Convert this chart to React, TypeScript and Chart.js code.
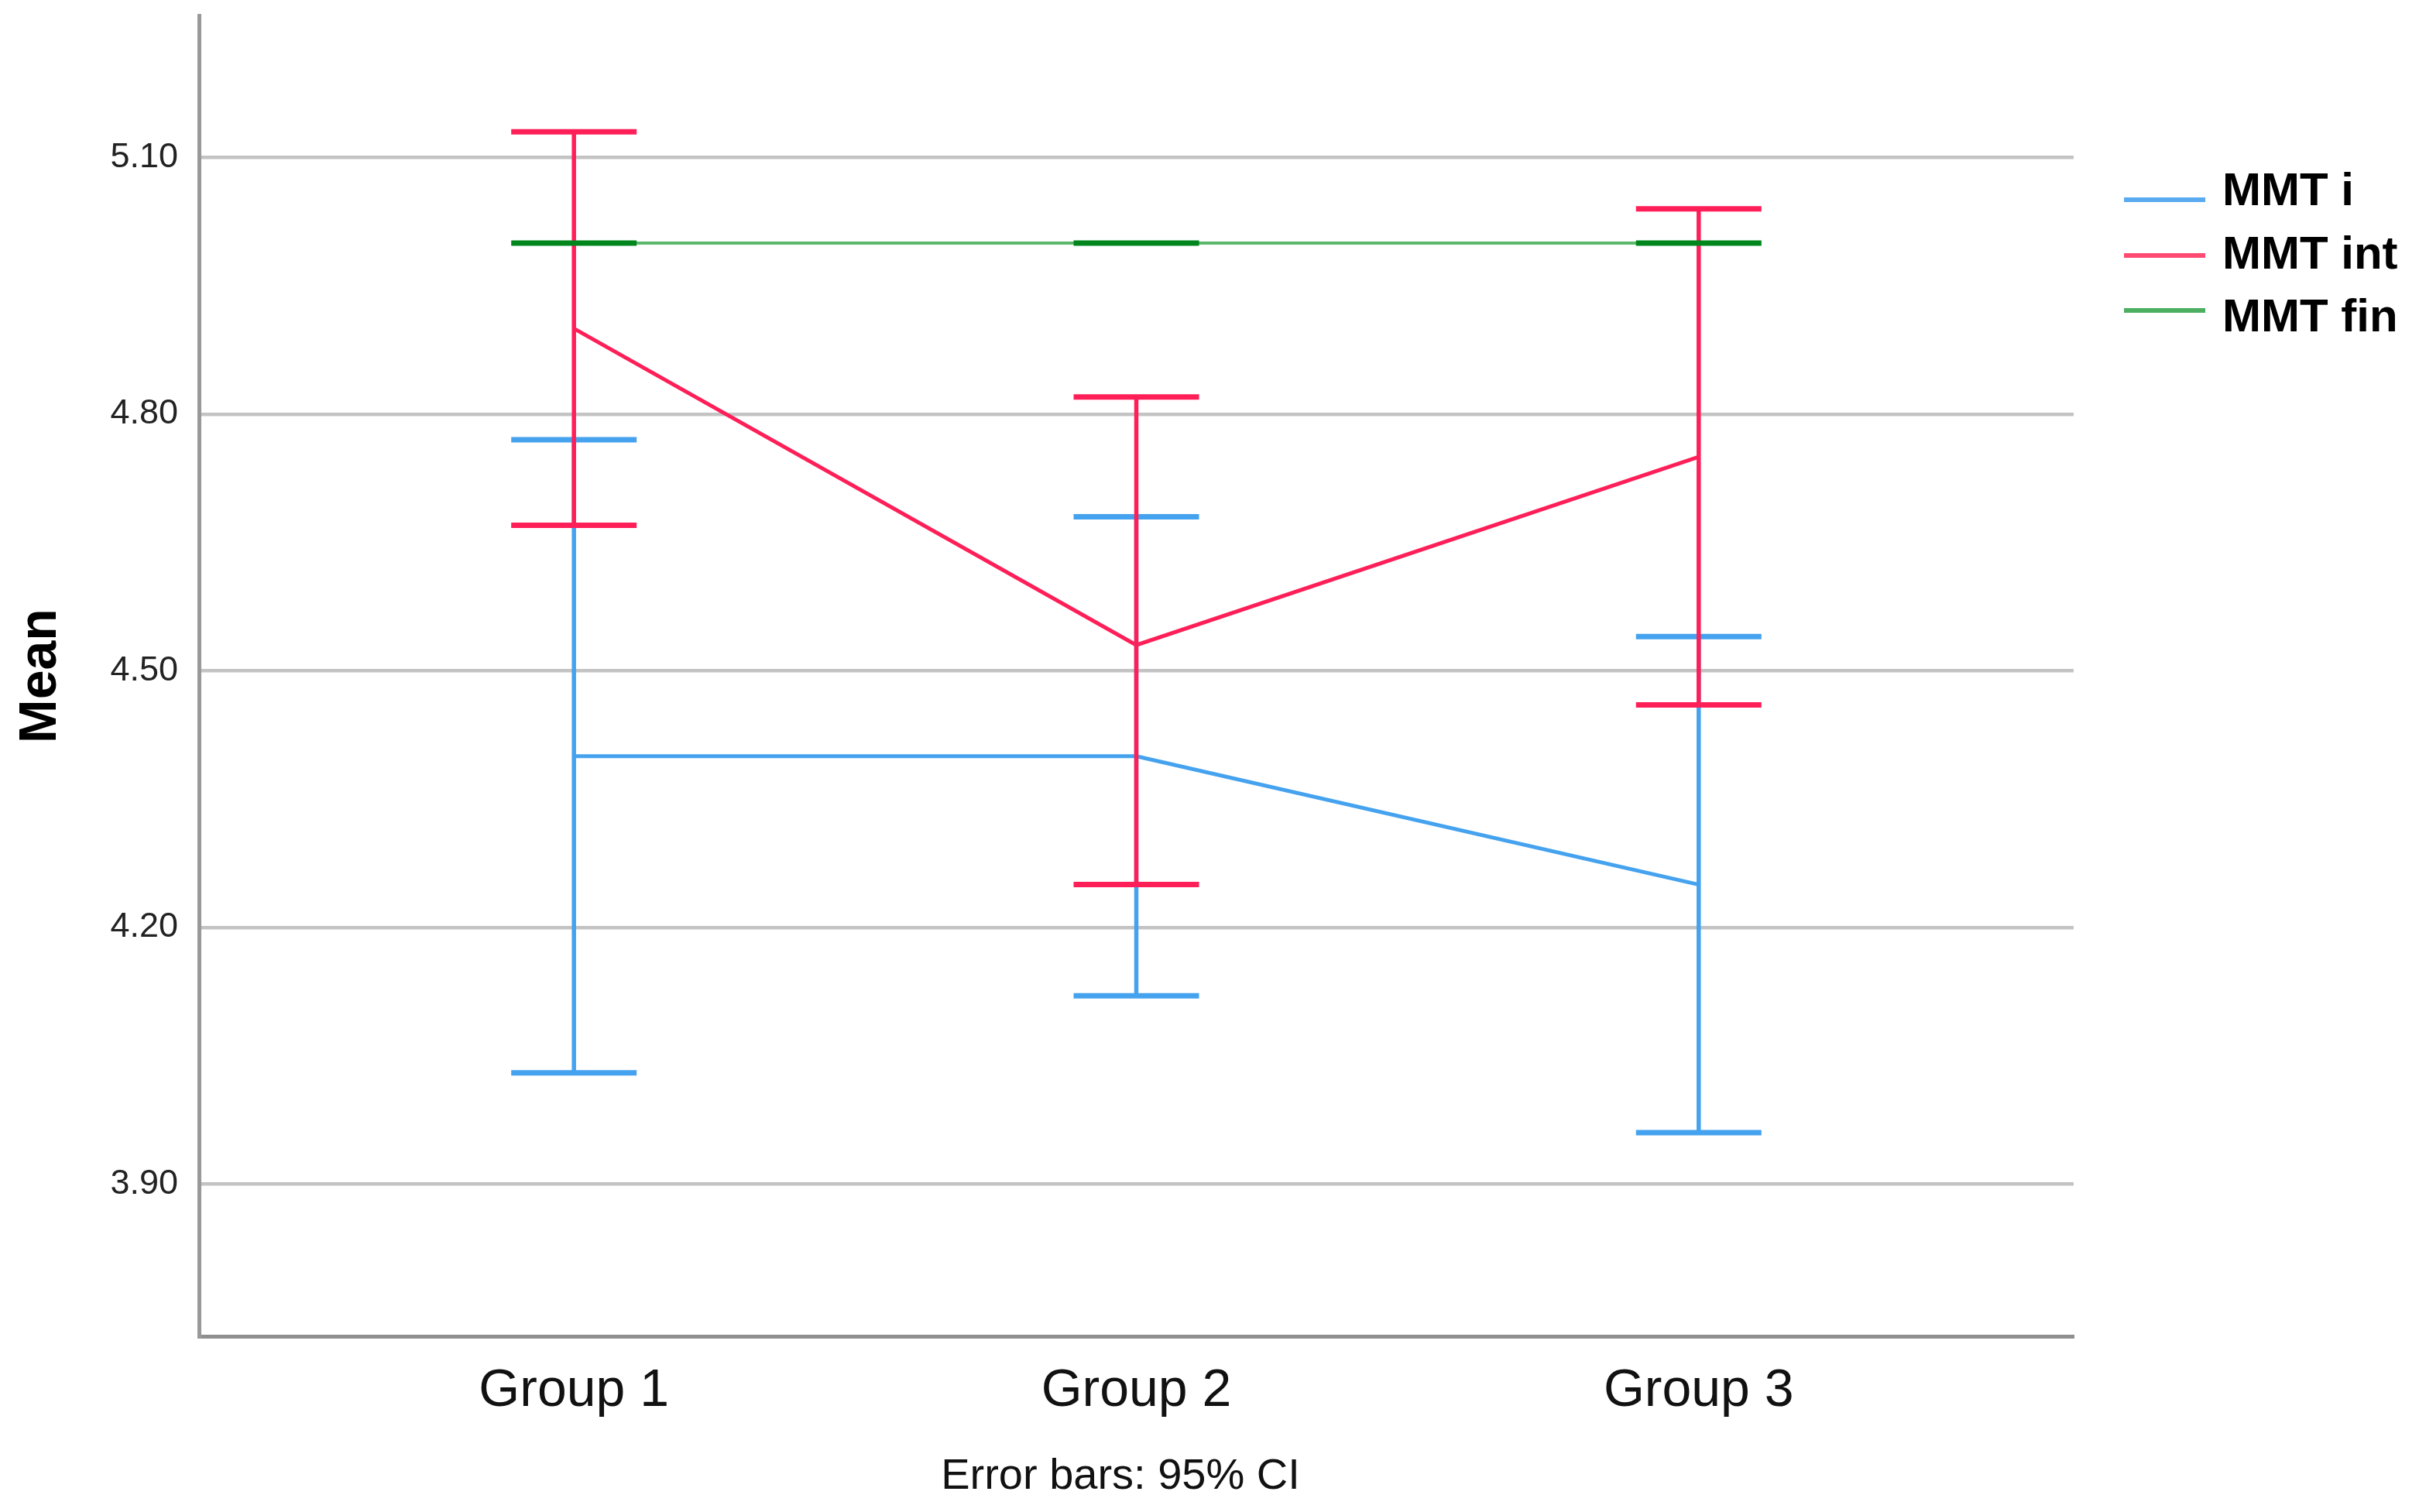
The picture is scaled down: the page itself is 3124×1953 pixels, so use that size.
import React, { useEffect, useRef } from 'react';
import { Chart, registerables } from 'chart.js';

Chart.register(...registerables);

// ---------- data ----------
const groups = ['Group 1', 'Group 2', 'Group 3'];
const seriesNames = ['MMT i', 'MMT int', 'MMT fin'];

const mmtIMean = [4.40, 4.40, 4.25];
const mmtILower = [4.03, 4.12, 3.96];
const mmtIUpper = [4.77, 4.68, 4.54];

const mmtIntMean = [4.90, 4.53, 4.75];
const mmtIntLower = [4.67, 4.25, 4.46];
const mmtIntUpper = [5.13, 4.82, 5.04];

const mmtFinMean = [5.00, 5.00, 5.00];
const mmtFinLower = [5.00, 5.00, 5.00];
const mmtFinUpper = [5.00, 5.00, 5.00];

const yTicks = [3.90, 4.20, 4.50, 4.80, 5.10];
const yTitle = 'Mean';
const footnote = 'Error bars: 95% CI';

// ---------- styles ----------
const W = 3124;
const H = 1953;
const FONT = '"Liberation Sans", Arial, sans-serif';
const lineColors = ['#45a2ee', '#ff1f58', '#5cb86c'];
const capColors = ['#45a2ee', '#ff1f58', '#00861c'];
const legendColors = ['#5aaaf0', '#ff4a72', '#4caf60'];

const means = [mmtIMean, mmtIntMean, mmtFinMean];
const lowers = [mmtILower, mmtIntLower, mmtFinLower];
const uppers = [mmtIUpper, mmtIntUpper, mmtFinUpper];

const errorBarsPlugin = {
  id: 'errorBars',
  afterDatasetsDraw(chart: any) {
    const { ctx, scales } = chart;
    const xs = scales.x;
    const ys = scales.y;
    const capHalf = 81;
    ctx.save();
    ctx.lineCap = 'butt';
    for (let s = 0; s < means.length; s++) {
      for (let g = 0; g < groups.length; g++) {
        const x = xs.getPixelForValue(g + 1);
        const yl = ys.getPixelForValue(lowers[s][g]);
        const yu = ys.getPixelForValue(uppers[s][g]);
        ctx.strokeStyle = lineColors[s];
        ctx.lineWidth = 5.5;
        ctx.beginPath();
        ctx.moveTo(x, yl);
        ctx.lineTo(x, yu);
        ctx.stroke();
        ctx.strokeStyle = capColors[s];
        ctx.lineWidth = 7;
        ctx.beginPath();
        ctx.moveTo(x - capHalf, yl);
        ctx.lineTo(x + capHalf, yl);
        ctx.moveTo(x - capHalf, yu);
        ctx.lineTo(x + capHalf, yu);
        ctx.stroke();
      }
    }
    ctx.restore();
  },
};

const legendPlugin = {
  id: 'customLegend',
  afterDraw(chart: any) {
    const { ctx } = chart;
    const lineY = [258, 330, 401];
    const textBase = [265, 347, 428];
    ctx.save();
    for (let i = 0; i < seriesNames.length; i++) {
      ctx.strokeStyle = legendColors[i];
      ctx.lineWidth = 6;
      ctx.beginPath();
      ctx.moveTo(2743, lineY[i]);
      ctx.lineTo(2848, lineY[i]);
      ctx.stroke();
      ctx.fillStyle = '#000';
      ctx.font = `bold 60px ${FONT}`;
      ctx.textAlign = 'left';
      ctx.textBaseline = 'alphabetic';
      ctx.fillText(seriesNames[i], 2870, textBase[i]);
    }
    ctx.font = `56px ${FONT}`;
    ctx.textAlign = 'center';
    ctx.fillStyle = '#111';
    ctx.fillText(footnote, 1447, 1923);
    ctx.restore();
  },
};

export default function App() {
  const ref = useRef<HTMLCanvasElement>(null);
  useEffect(() => {
    document.body.style.margin = '0';
    const chart = new Chart(ref.current as HTMLCanvasElement, {
      type: 'line',
      data: {
        datasets: seriesNames.map((name, s) => ({
          label: name,
          data: groups.map((_, g) => ({ x: g + 1, y: means[s][g] })),
          borderColor: lineColors[s],
          backgroundColor: lineColors[s],
          borderWidth: s === 2 ? 4 : 5,
          pointRadius: 0,
          tension: 0,
          fill: false,
        })),
      },
      options: {
        responsive: false,
        devicePixelRatio: 1,
        animation: false,
        layout: { padding: { top: 20, right: 446, left: 0, bottom: 0 } },
        plugins: { legend: { display: false }, tooltip: { enabled: false } },
        scales: {
          x: {
            type: 'linear',
            min: 1 / 3,
            max: 11 / 3,
            afterBuildTicks: (s: any) => {
              s.ticks = groups.map((_, i) => ({ value: i + 1 }));
            },
            afterFit: (s: any) => {
              s.height = 227;
              s.paddingLeft = 0;
              s.paddingRight = 0;
              s.paddingTop = 0;
              s.paddingBottom = 0;
            },
            ticks: {
              callback: (v: any) => groups[Number(v) - 1] ?? '',
              font: { family: FONT, size: 68 },
              color: '#111',
              padding: 30,
              maxRotation: 0,
              autoSkip: false,
            },
            grid: { display: false, drawTicks: false },
            border: { display: true, color: '#8f8f8f', width: 5 },
          },
          y: {
            type: 'linear',
            min: 3.722,
            max: 5.266,
            afterBuildTicks: (s: any) => {
              s.ticks = yTicks.map((v) => ({ value: v }));
            },
            afterFit: (s: any) => {
              s.width = 257;
              s.paddingLeft = 0;
              s.paddingRight = 0;
              s.paddingTop = 0;
              s.paddingBottom = 0;
            },
            ticks: {
              callback: (v: any) => Number(v).toFixed(2),
              font: { family: FONT, size: 45 },
              color: '#222',
              padding: 27,
              autoSkip: false,
            },
            grid: { color: '#c3c3c3', lineWidth: 4.5, drawTicks: false },
            border: { display: true, color: '#999999', width: 5 },
            title: {
              display: true,
              text: yTitle,
              font: { family: FONT, size: 68, weight: 'bold' },
              color: '#000',
              padding: { top: 12, bottom: 0 },
            },
          },
        },
      },
      plugins: [errorBarsPlugin, legendPlugin],
    } as any);
    return () => chart.destroy();
  }, []);
  return (
    <div style={{ position: 'absolute', left: 0, top: 0, width: W, height: H, background: '#fff' }}>
      <canvas ref={ref} width={W} height={H} style={{ width: W, height: H, display: 'block' }} />
    </div>
  );
}
